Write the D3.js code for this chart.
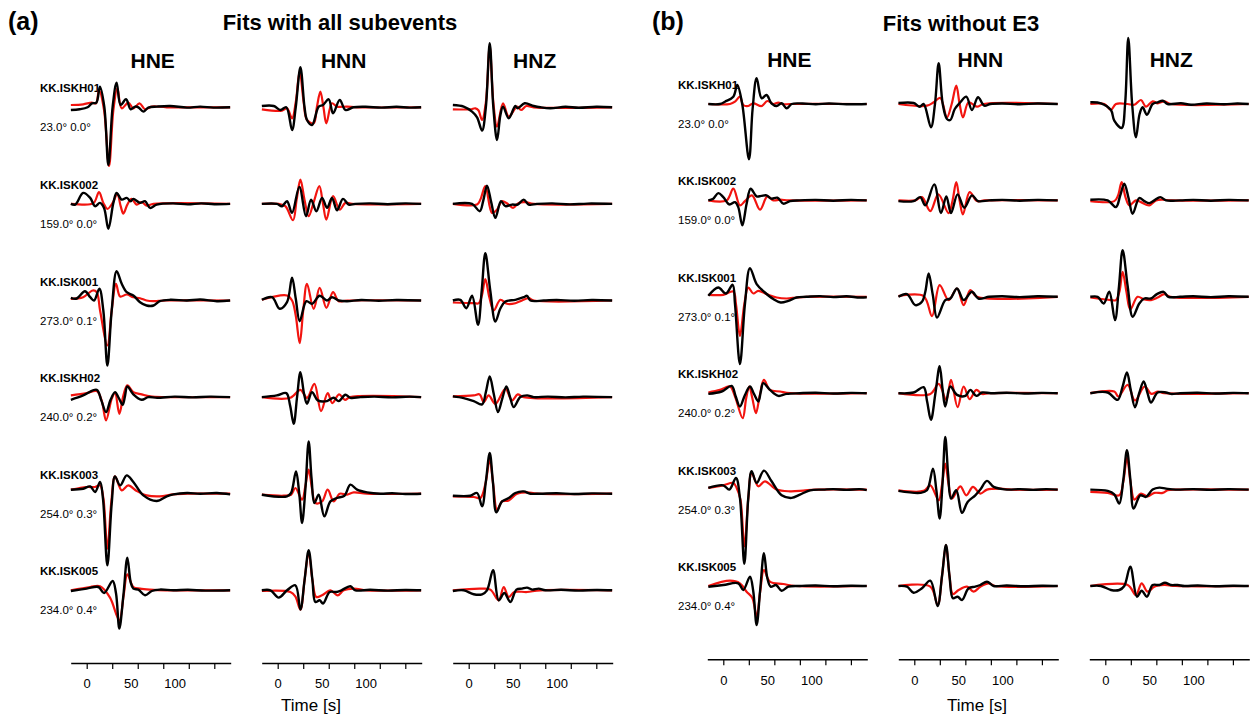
<!DOCTYPE html>
<html><head><meta charset="utf-8">
<script src="https://cdn.jsdelivr.net/npm/d3@7"></script>
<style>
body{margin:0;background:#fff;}
svg{display:block;font-family:"Liberation Sans",Arial,Helvetica,sans-serif;}
</style></head><body>
<svg id="chart" width="1257" height="720"></svg>
<script>
// ---------- DATA ----------
const stations = ["KK.ISKH01","KK.ISK002","KK.ISK001","KK.ISKH02","KK.ISK003","KK.ISK005"];
const azimuths = ["23.0° 0.0°","159.0° 0.0°","273.0° 0.1°","240.0° 0.2°","254.0° 0.3°","234.0° 0.4°"];
const components = ["HNE","HNN","HNZ"];
const panelTags = ["(a)","(b)"];
const panelTitles = ["Fits with all subevents","Fits without E3"];
const timeDomain = [-18.18, 163.64];
const tickMarkValues = [0,29,58,87,116,145];
const tickLabelValues = [0,50,100];
const axisTitle = "Time [s]";

// traces: flat [time(s), amplitude, time, amplitude, ...] per station (row order as stations)
const obsA_HNE = [
[-18,-2.7,-8,-2,1,0,6,4,11,4.7,15,20.7,20,0.7,24.6,-57.7,29.5,0.7,34,24.7,38.6,2.3,44.7,8,50,-2,55,0.7,58.7,0,64.4,-4.3,70,-0.3,80,0.7,95,1.3,114,-0.3,129,0.7,144,-0.3,163,0],
[-18,0,-13,-0.7,-4,11,4,6,9.5,-2.3,15,1,19.7,-4,24.6,-25,30.3,1,34,11,39.8,4.3,45.5,6,50,2.7,53,5,60.6,1,66.3,2.7,72,-4,79.5,-0.7,98,0.5,115,-0.5,130,0.5,145,-0.3,163,0],
[-18,2.7,-11.4,2,-2,9.3,4,3.3,8.3,0,14.4,11.7,18.9,-10,23.5,-65,28.4,-10,34,29.3,39.8,16.7,45.5,8.3,53,5,60.6,-1.7,68,-5,76,-5,83,-0.7,95,0.7,114,0,129,1,148,-0.7,163,0],
[-18,-2.7,-4,1.7,11.4,7.3,16.5,-3,22,-15,27,-3,32.2,5,36.5,-1,40.9,-7.7,43.5,1,46.2,10.7,53,2.7,62.5,-2.7,70,0,80,-0.7,100,0.5,120,-0.3,140,0.5,163,0],
[-18,4,-4,5,4,7.3,9.5,1.7,15.2,11.7,18.5,-5,23.5,-71.7,28.4,-10,32.2,17.3,38,8.3,45.5,18.3,53,11.7,64.4,-1.7,79.5,-7.3,91,-2.7,98.5,-0.7,114,0.7,129,0,148,0.7,163,-0.7],
[-18,-0.7,0,1.7,13.3,3.3,19.7,-2.7,29.5,9.3,33.3,-3,37.1,-38.3,41.7,-5,46.2,32.7,50,8,53,1.7,58.7,0.7,66.3,-5,74,-0.7,83,0.7,98.5,0,115,0.5,135,-0.3,163,0]
];
const synA_HNE = [
[-18,2.3,-4,3,5.7,4.7,10.6,4,14,17.3,19.7,-2.7,25.4,-58.7,30.3,-2.7,34.8,19,39.8,-1,47.3,4.7,53,-1,60,4,66.3,-2,74,0.7,91,0,163,0],
[-18,0,4,-0.3,8.7,1.7,14,11.7,18.9,1,23.5,-5,29.5,1,34.8,10,38.6,-2.3,41.7,-9.7,46.2,-0.7,51,5,56.8,-0.7,62.5,1.7,68,-1.7,76,0,163,0],
[-18,1.7,-4,3.3,6.8,10,11.4,8.3,15.2,-10,23.5,-45,28.4,-10,33.3,16.7,38,4,45.5,6,53,3.3,60.6,2.3,68,0,76,-0.7,90,0,163,0],
[-18,1.7,0,4,11.4,6,17,-3.3,22,-23.3,28.4,-1.7,32.2,4,37.1,-16.7,41.7,1.7,46.2,11.7,53,5,62.5,2.7,72,0.7,90,0,163,0],
[-18,4,0,6.7,9.5,6.7,15.2,8.3,19,-5,23.5,-55,28,-8,32.2,17.3,39.8,3.3,47.3,8.3,56.8,2.7,68,-1.7,83,-2.7,98.5,-0.7,115,0,163,0],
[-18,0,4,3.3,15.2,4,26.5,-7.3,37.1,-30,42,-5,46.2,16,53,3.3,60.6,1.7,72,0.7,90,0,163,0]
];
const obsA_HNN = [
[-18,1.3,-4.5,1.3,3,-2.7,9.8,0,16.3,-22.7,20.5,0,25.8,40,30.5,0,33.3,-12.7,39,-17.7,46.6,0.7,51.5,2.3,58,8,62.9,-6,70.5,7.3,77,-2.7,86,0,100,0.5,118,-0.3,135,0.5,150,-0.3,163,0],
[-18,0,-1,0,4.9,-2.3,10.6,2.7,16.3,-9,24.6,17,32.2,-12.3,37.9,4.3,43.9,-7.3,50.4,6,56.1,-4,61.7,6,67.4,-6.3,74.2,5,80.7,-0.7,88,0,105,0.5,125,-0.3,145,0.5,163,0],
[-18,0.7,-6.4,3.3,2.3,-8.3,10.6,-1.7,16.3,22.7,20.5,2,25,-20.7,32.6,-0.7,39,-3.3,47.7,4.7,56,0,61.7,3.3,69.3,0,78.8,-0.7,95,0.5,115,-0.3,135,0.5,163,0],
[-18,0,-1,1.7,9.8,4,14,-8,18.2,-26.7,22,0,25.8,25,30,3,33.3,-6.7,39,5,45.5,-3.3,56,-4,63.6,-0.7,69.3,-4,76.9,2.3,82.6,-0.7,94,0,110,0.5,130,-0.3,150,0.5,163,0],
[-18,-1,10.6,-2.7,15.2,0.7,20.8,22.3,24.5,0,27.7,-29.3,31.5,5,35.2,52.3,38.5,15,41.7,-9.3,46.6,-1,53,-22.7,59.9,-7.7,67.4,-4.3,75.8,-2,82.6,9,90.2,4,101.5,1.3,116.7,0,130,0.5,145,-0.3,163,0],
[-18,0,-8.3,0,1.1,-7.3,10.6,0,20.1,5,25.8,-19.3,30.5,10,35.2,40,39.5,10,42.8,-11.7,47.7,-10,51.5,-13.3,59.1,-1.7,66.7,-1.7,72.4,0,82.6,4,88.3,0,105,0.5,125,-0.3,145,0.3,163,0]
];
const synA_HNN = [
[-18,-2,4.9,-3.3,10.6,-1,16.3,-11,20.5,5,25,36,29.5,5,33.3,-12.7,40.9,-16,44.5,0,48.5,15.7,52,0,55.3,-16,61.7,4,67.4,0.7,78.8,0.7,90,0,163,0],
[-18,0,1.1,0,8.7,-2.3,17.4,-16.3,21.5,4,25.8,24.3,30.5,4,35.2,-12.3,41,2,47.3,17.7,51.5,0,55.3,-15.7,62.9,7.7,70.5,-5.7,76.9,1,84.5,0,163,0],
[-18,0.7,10.6,5,16.3,0,20.5,-15,25,-42.7,29,-10,33.3,16.7,40.9,-8.3,47.7,12.7,55.3,-7.3,62.9,8.3,69.3,-0.7,78.8,0,163,0],
[-18,0,14.4,-0.7,25.8,7.3,33.3,-0.7,41.7,13.3,49.2,-14,56.8,4,62.1,-6,69.7,2.7,76.5,-2.7,82.1,0,163,0],
[-18,-1,6.8,-2,15.2,-1,20.1,5.7,27.7,-6,31.5,8,35.2,24,39,5,42.8,-9.3,50.4,-7.7,56.8,4,63.6,-7.7,70.5,0,78.8,-1,86.4,1.3,101.5,0,163,0],
[-18,-0.7,14.4,-1.7,20,-6,25.8,-19.3,30.5,10,35.2,38.3,39.5,10,43.9,-6.7,50.4,-5,59.9,0,68.2,-5,75,0,86.4,1.7,101.5,0,163,0]
];
const obsA_HNZ = [
[-18,2.3,-5.7,0.7,3.8,-4.3,9.5,-10,15.2,-23.3,19.5,0,23.9,64,28,0,32.2,-32.7,36,-8,39,0.7,45.5,-11,53,1.3,55.7,-1,63.6,4,73.9,1.3,81.4,0,92.8,-1,110,0.5,125,-0.5,145,0.5,163,0],
[-18,0,3.8,0,12.5,-7.3,16.5,3,20.8,18.3,25.5,2,30.3,-14,36.7,2.7,41.7,-2.3,49.2,-0.7,55.7,-0.7,62.5,4.3,68.2,-0.7,77.7,0,95,0.5,115,-0.5,135,0.3,163,0],
[-18,0,-9.5,0.7,-2.7,-7.7,3.8,4.7,10.6,-24.3,14.8,10,18.9,47.3,24.5,10,30.3,-21,36,-8,41.7,-1,53,0.7,62.5,3.3,66.3,4.7,70.1,0,85.2,0,100,0.5,120,-0.3,140,0.5,163,0],
[-18,0.7,-5.7,-1,5.7,-4,15.2,-7.3,19.5,5,23.9,20.7,28.5,3,33.3,-15,38,-2,42.8,10.7,47,0,51.1,-10,58.7,0,66.3,1.7,73.9,0,90,0.5,110,-0.3,130,0.5,163,0],
[-18,-2,1.9,-2,9.5,0.7,15.2,-12.7,19.5,12,23.9,40.7,27.5,12,31.4,-18.7,37.9,-7.7,45.5,-4.3,53,0.7,62.5,2.3,70.1,0,81.4,0,100,0.5,120,-0.3,140,0.3,163,0],
[-18,-0.7,-5.7,0,5.7,-4,15.2,-4,20.8,0,27.7,20,34.1,-10,40.5,-2.7,47.3,-11.7,54.2,0.7,60.6,1.7,66.3,2.7,72,0.7,79.5,1.7,87.1,0,105,0.5,125,-0.3,145,0.3,163,0]
];
const synA_HNZ = [
[-18,-2,1.9,-2,7.6,-1,11,-3,15.2,-12.7,19.5,5,23.9,60.7,28,5,32.2,-19.3,39,4,45.5,-9.3,55,0.7,59.5,-2.7,65.5,1.3,73.9,0,163,0],
[-18,0,9.5,-0.7,13.3,4.3,18.9,17.7,26.5,-9,32.2,-5.7,37.9,2.7,45.5,-0.7,50.4,-4,56.8,1,64.4,1.7,73.9,0,163,0],
[-18,-2,5.7,-2.7,11.4,-2.7,15,5,18.9,21.3,23.5,3,28.4,-10,36,0.7,43.6,-3.3,53,-2.7,60.6,0,68.2,2.3,73.9,0,163,0],
[-18,0.7,5.7,1.7,12.5,2.7,17,-5,22.7,1.7,30.3,-6.7,41.7,8.3,49.2,-3.3,55.7,2.7,62.5,0,163,0],
[-18,-2.7,5.7,-3.3,13.3,-4.3,19,10,23.9,34,28,8,32.2,-16,37.9,-7.7,45.5,-6.7,55,0,66.3,1.3,77.7,0,163,0],
[-18,0,13.3,1.7,24.6,0.7,34.1,-10,39.8,3.3,45.5,-6.7,51.9,-1.7,66.3,-1.7,81.4,0,163,0]
];
const obsB_HNE = [
[-17,0,-3.8,0,1.9,2.3,11.4,7.3,15.9,19,21.5,0,29.2,-55.3,33.3,-5,37.9,25.7,43.6,5.7,49.2,9,54.7,0.7,60.6,-2,66.3,0.7,72,-4.3,77.7,0,90,0.5,105,-0.3,120,0.5,140,-0.3,163,0],
[-17,0,-11.4,1.7,-5.7,7.3,0,3.3,6.8,-4,13.3,-1.7,17,-6.7,21.6,-25,26.5,-3.3,31.1,11.7,37.9,4,43,4.5,49.2,5,54.7,1.7,61.4,2.7,68.2,-3.3,75.8,-0.7,87,0,105,0.5,125,-0.3,145,0.5,163,0],
[-17,1,-5.7,9.3,3,3.3,10.6,12,13.3,-7.3,18.9,-67.3,24.6,-7.3,30.3,28.7,37.9,12.7,47.3,4.3,56.8,-2.3,65.2,-5.7,73.9,-4,83.3,-0.7,94.7,0,110,0.7,125,-0.3,140,0.5,155,-0.7,163,-0.5],
[-17,-0.7,-1.9,1.7,9.5,7.3,14,-3,18.9,-13.3,24.5,-2,30.3,6.7,35,-1,39.8,-8.3,42.5,1,45.5,10,53,3.3,62.5,-2.7,72,-0.7,87,0,105,0.5,125,-0.3,145,0.3,163,0],
[-17,1.7,0,4.3,6.8,0,14.4,11.7,18.9,-8.3,23.9,-74.3,28.4,-8.3,32.2,18.3,37.9,6.7,46.2,19,54.9,8.3,66.3,-5.7,77.7,-8.3,87.1,-5,98.5,-0.7,113.6,0,125,0.5,140,-0.3,155,0.5,163,-0.5],
[-17,-0.7,0,1,17,2.7,22.7,-4,30.3,9.3,34,-5,37.9,-39,42,-3,46.2,32.7,50,8,53.8,-0.7,59.9,1,66.3,-4.7,73.9,-0.7,87,0,105,0.5,125,-0.3,145,0.3,163,0]
];
const synB_HNE = [
[-17,0,7.6,0,13.3,2.3,18.9,7.3,22.7,-1,28.4,-2,34.1,0.7,43.6,-2,50,3,56.8,0,62.5,1.3,68.2,-0.3,75.8,0,163,0],
[-17,0,3.8,0,11.4,11.7,18.9,-5,24.6,-0.7,32.6,5,41.7,-9.3,50,4,56.8,0,64.4,0.7,75,0,163,0],
[-17,2,0,2,11.4,5.3,14.4,-7.3,18.9,-39,23.9,-7.3,28.4,9.3,34.1,3.3,39.8,6,49.2,2.7,60.6,-0.7,72,-1.7,83.3,-0.7,95,0,163,0],
[-17,0.7,-3.8,3.3,7.6,6.7,13.3,-3.3,22,-25,26,-5,29.5,6.7,33,-5,37.1,-20,41.5,-2,46.2,13.3,53,3.3,64.4,1.7,75.8,0,163,0],
[-17,1.7,0,4.3,11.4,6.7,15.2,1.7,19.5,-10,23.9,-56.7,28.5,-8,32.2,16.7,39.8,3.3,47.3,8.3,60.6,0,75.8,-1.7,90.9,-1,105,0,163,0],
[-17,0,7.6,5.3,18.9,2.7,26.5,-5.7,33,-12,37.9,-30.7,42,-5,46.2,16,53,4.3,68.2,2,82,0,163,0]
];
const obsB_HNN = [
[-18,1,-0.8,1,6.1,-2.7,10.6,0,18.9,-23.3,23.5,0,27.7,40.7,32.3,0,37.1,-15,40.9,-16,46,-5,52.3,1.7,59.1,7.3,65.5,-6,72.4,6.7,79.5,-1.7,86.4,0,100,0.5,120,-0.3,140,0.5,163,0],
[-18,-0.7,-0.8,-0.7,6.8,3.3,12.5,-5,22.7,16,30.3,-12.7,36.4,4,41.7,-12.7,49.2,6,56.8,-7.3,65.5,5,72.4,-0.7,85,0,100,0.5,120,-0.3,140,0.5,163,0],
[-18,0,-8.3,2.7,1.1,-8.3,8.7,-5,12.5,5,16.3,23.3,21,2,25.8,-20.7,35.2,-3.3,40.9,-1.7,48.5,8.3,56.1,-3.3,65.5,5,72.8,-1.7,85,0,100,0.5,120,-0.3,140,0.5,163,0],
[-18,0,-0.8,0.7,10.6,6,14.5,-8,18.9,-26.7,24,0,28.8,27,32,5,35.2,-13.3,40.9,6.7,48.5,-1.7,58,-2.7,63.6,3.3,70.5,-2.7,76.9,0.7,87,0,105,0.5,125,-0.3,145,0.3,163,0],
[-18,-1.3,6.8,-3.3,14.4,-0.7,21.2,21,25,0,28.8,-29,32,5,35.2,52.7,38.5,15,41.7,-9,47.7,-0.7,54.2,-23.3,60.6,-12.3,69.3,-5.7,75,0,82.6,8.7,90.2,2.7,105.3,0,120,0.5,135,-0.3,150,0.5,163,0],
[-18,0,-8.3,-0.7,-0.8,-6.7,8.7,-2.3,18.2,5.3,26.5,-20,31.5,10,36,41,40,10,43.9,-12.3,49.2,-10.7,54.2,-14,61.7,-2.3,69.3,-0.7,75,1,82.6,4.3,90.2,0,105,0.5,125,-0.3,145,0.3,163,0]
];
const synB_HNN = [
[-18,0,14.4,-1.7,22,1.7,29.5,6,37.1,-13.3,42.5,0,47.7,18.3,51.5,0,55.3,-13.3,61.7,1.7,71.2,-2.7,78.8,0,163,0],
[-18,0,1.1,0,8.7,3.3,18.2,-10.7,27.3,6,39,-12.7,43.5,0,47.7,18.3,51.5,0,55.3,-14,62.9,8.3,71.2,-0.7,80,0,163,0],
[-18,0.7,10.6,0.7,20.1,-19.3,28.8,11.7,39,-3.3,48.5,8.3,56.1,-8.3,63.6,6.7,71.2,0,163,0],
[-18,0,18.2,-0.7,27.7,9.3,36.4,-6.7,41.7,13.3,49.2,-14,56.1,6.7,62.9,-6,70.5,3.3,76.9,-0.7,85,0,163,0],
[-18,-0.7,10.6,-1.3,18.2,4.3,27.7,-10.7,31.5,5,35.2,26,39,5,42.8,-9,52.3,3.3,59.1,-5.7,66.7,2.7,75,-4,82.6,0,97.7,1,110,0,163,0],
[-18,0,18.2,-0.7,26.5,-19,31.5,10,36,41,40,10,43.9,-8,50.4,-4,59.9,-0.7,67.4,-5.7,75,-0.7,84.5,2.7,92,0,163,0]
];
const obsB_HNZ = [
[-17,1.7,-4.9,0.7,6.4,-6,10.2,-16.7,18.6,-24,22.5,0,26.1,66,30.5,0,34.8,-33.3,39,-10,42.4,-3.3,47.3,-10.7,53.8,0,59.5,1.7,65.2,3.3,70.8,0,86,0.7,97.4,-0.7,115,0.5,135,-0.3,150,0.5,163,0],
[-17,0.7,2.7,0,12.1,-6.7,17,5,21.6,16.7,26.5,2,31.1,-13.3,38.6,2.3,44.3,-0.7,50,-2.7,55.7,0,62.5,3.3,69,0,85,0,100,0.5,120,-0.3,140,0.5,163,0],
[-17,0,-8.7,0,-1.9,-6.7,4.5,5,11,-23.3,15.5,10,19.7,46.7,25.5,10,31.1,-20,38.6,-6.7,44.3,-1.7,51.9,-1.7,58.7,2.7,66.3,5,71.6,0,85,0,100,0.5,120,-0.3,140,0.5,163,0],
[-17,0,2.7,0.7,14,-6.7,19.5,6,24.6,20.7,29,3,33.7,-14,38.5,0,43.6,11.7,48,0,51.9,-9.3,59.5,0.7,69,0.7,74.6,-0.7,85,0,105,0.5,125,-0.3,145,0.3,163,0],
[-17,0,2.7,-1.3,10.2,-4.7,15.9,-14,20.5,10,24.6,39.3,28.5,10,32.2,-19,39.8,-5.7,46.2,-7.3,53.8,0,61.4,2,69,1,80,0,100,0.5,120,-0.3,140,0.5,163,0],
[-17,0,-4.9,0,6.4,-4,15.9,-4,21.6,0,28.4,19.3,36,-10.7,41.3,-4.7,47.3,-10.7,53.8,1,61.4,1,67.8,3.3,74.6,1,82.2,1,90,0,105,0.5,125,-0.3,145,0.3,163,0]
];
const synB_HNZ = [
[-17,0,-1.1,0,6.4,-6,12.1,0,25.4,0,33,-0.7,40.5,4,46.2,-2.7,53.8,2.7,59.5,0.7,67,2.7,74.6,0,163,0],
[-17,-0.7,10.2,-0.7,14.5,5,18.6,18.3,23,3,27.3,-5,34.8,0,40.5,-1.7,50,-5,57.6,0,65.2,0.7,75,0,163,0],
[-17,-0.7,6.4,-3.3,12.1,-3.3,16,5,19.7,25,24,5,28.4,-12.7,36.7,0,44.3,-2.7,51.9,-3.3,59.5,-0.7,67,2.7,74,0,163,0],
[-17,0,10.2,1.7,14.8,-3.3,25.4,8.3,33.7,-7.3,44.7,6.7,52.3,-0.7,59.9,1.7,67,0,163,0],
[-17,-2.3,2.7,-3.3,15.9,-5.7,20.5,8,24.6,32,29,5,33,-10,40.5,-4,48.1,-6.7,55.7,-3.3,65.2,-3.3,70.8,-0.7,80,0,163,0],
[-17,0,25.4,1,34.8,-9,41.3,2.7,48.1,-5.7,55.7,-0.7,67,1,80,0,163,0]
];

// ---------- LAYOUT ----------
const panels = [
  {obs:[obsA_HNE,obsA_HNN,obsA_HNZ], syn:[synA_HNE,synA_HNN,synA_HNZ],
   left:70.7, rowTop:107.3, rowBottom:590.3, axisY:663, labelX:40,
   titleX:340, titleY:30, tagX:8, compY:68, timeX:311},
  {obs:[obsB_HNE,obsB_HNN,obsB_HNZ], syn:[synB_HNE,synB_HNN,synB_HNZ],
   left:707.3, rowTop:104, rowBottom:586, axisY:659.3, labelX:678,
   titleX:961, titleY:31, tagX:652, compY:67, timeX:977}
];
const colStep = 191, colWidth = 160;

const svg = d3.select("#chart");
const toPairs = arr => d3.range(0, arr.length, 2).map(i => [arr[i], arr[i+1]]);

panels.forEach((P, pi) => {
  const g = svg.append("g");
  g.append("text").attr("x", P.tagX).attr("y", 30)
    .attr("font-size", 25).attr("font-weight", "bold").text(panelTags[pi]);
  g.append("text").attr("x", P.titleX).attr("y", P.titleY).attr("text-anchor","middle")
    .attr("font-size", 22).attr("font-weight", "bold").text(panelTitles[pi]);

  const rowY = d3.scalePoint().domain(stations).range([P.rowTop, P.rowBottom]);

  stations.forEach((s, i) => {
    const b = rowY(s);
    g.append("text").attr("x", P.labelX).attr("y", b - 15)
      .attr("font-size", 11.5).attr("font-weight","bold").text(s);
    g.append("text").attr("x", P.labelX).attr("y", b + 24)
      .attr("font-size", 11.5).text(azimuths[i]);
  });

  components.forEach((c, ci) => {
    const left = P.left + ci * colStep;
    const x = d3.scaleLinear().domain(timeDomain).range([left, left + colWidth]);
    g.append("text").attr("x", left + colWidth/2 + 2).attr("y", P.compY)
      .attr("text-anchor","middle").attr("font-size", 21).attr("font-weight","bold").text(c);

    stations.forEach((s, si) => {
      const b = rowY(s);
      const y = d3.scaleLinear().domain([-100, 100]).range([b + 100, b - 100]);
      const line = d3.line().x(d => x(d[0])).y(d => y(d[1]))
        .curve(d3.curveCatmullRom.alpha(0.5));
      g.append("path").datum(toPairs(P.syn[ci][si])).attr("d", line)
        .attr("fill","none").attr("stroke","#f2140f").attr("stroke-width",2.2)
        .attr("stroke-linejoin","round");
      g.append("path").datum(toPairs(P.obs[ci][si])).attr("d", line)
        .attr("fill","none").attr("stroke","#000").attr("stroke-width",2.4)
        .attr("stroke-linejoin","round");
    });

    const ax = g.append("g").attr("transform", `translate(0,${P.axisY})`)
      .call(d3.axisBottom(x).tickValues(tickMarkValues).tickSize(6).tickSizeOuter(0).tickFormat(""));
    ax.select(".domain").attr("stroke","#000").attr("stroke-width",1.6);
    ax.selectAll(".tick line").attr("stroke","#000").attr("stroke-width",1.2);
    const al = g.append("g").attr("transform", `translate(0,${P.axisY})`)
      .call(d3.axisBottom(x).tickValues(tickLabelValues).tickSize(0).tickPadding(16));
    al.select(".domain").remove();
    al.selectAll(".tick text").attr("font-size", 13).attr("fill","#000")
      .attr("font-family", '"Liberation Sans",Arial,Helvetica,sans-serif');
  });

  g.append("text").attr("x", P.timeX).attr("y", 711).attr("text-anchor","middle")
    .attr("font-size", 17).text(axisTitle);
});
</script>
</body></html>
